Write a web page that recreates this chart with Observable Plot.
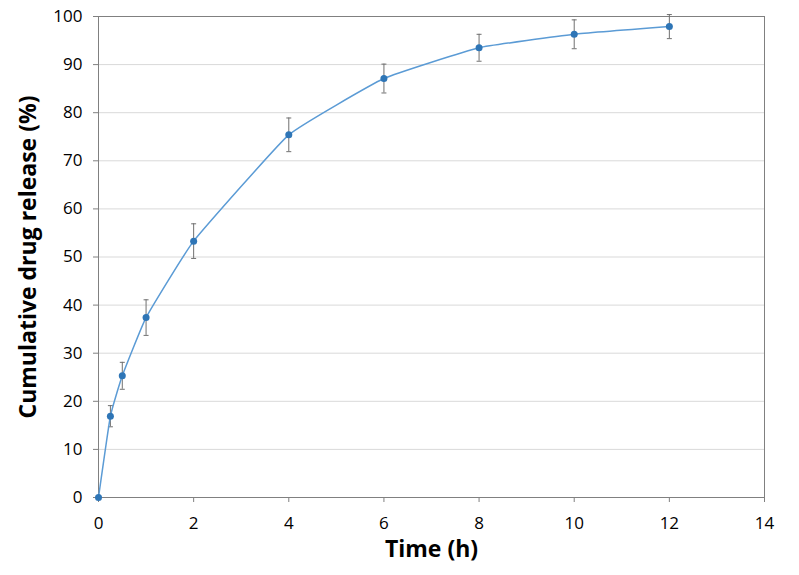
<!DOCTYPE html>
<html>
<head>
<meta charset="utf-8">
<script src="https://cdn.jsdelivr.net/npm/d3@7"></script>
<script src="https://cdn.jsdelivr.net/npm/@observablehq/plot@0.6"></script>
<style>
  html, body { margin: 0; padding: 0; background: #fff; }
  #chart svg { display: block; }
</style>
</head>
<body>
<div id="chart"></div>
<script>
const times = [0, 0.25, 0.5, 1, 2, 4, 6, 8, 10, 12];
const release = [0, 16.9, 25.3, 37.4, 53.3, 75.4, 87.1, 93.5, 96.3, 97.9];
const errors = [0, 2.2, 2.8, 3.7, 3.6, 3.5, 3.0, 2.8, 3.0, 2.5];
const xTicks = [0, 2, 4, 6, 8, 10, 12, 14];
const yTicks = [0, 10, 20, 30, 40, 50, 60, 70, 80, 90, 100];
const xLabel = "Time (h)";
const yLabel = "Cumulative drug release (%)";

const data = times.map((t, i) => ({t, v: release[i], lo: release[i] - errors[i], hi: release[i] + errors[i], e: errors[i]}));
const errData = data.filter(d => d.e > 0);

const capSymbol = {
  draw(ctx, size) {
    const r = Math.sqrt(size / Math.PI);
    ctx.moveTo(-r, 0);
    ctx.lineTo(r, 0);
  }
};

const font = "'Open Sans', 'Noto Sans', sans-serif";

const chart = Plot.plot({
  width: 799,
  height: 575,
  marginLeft: 98,
  marginRight: 35,
  marginTop: 16,
  marginBottom: 78,
  style: {fontFamily: font, fontSize: "17px", color: "#000", background: "#fff"},
  x: {domain: [0, 14], ticks: xTicks, label: null},
  y: {domain: [0, 100], ticks: yTicks, label: null},
  marks: [
    Plot.ruleY(yTicks, {stroke: "#d9d9d9", strokeWidth: 1}),
    Plot.frame({stroke: "#808080", strokeWidth: 1}),
    Plot.axisX({ticks: xTicks, tickSize: 5, tickPadding: 14, stroke: "#808080", fontSize: 17, fill: "#000", tickFormat: d => String(d), label: null}),
    Plot.axisY({ticks: yTicks, tickSize: 5, tickPadding: 11, stroke: "#808080", fontSize: 17, fill: "#000", tickFormat: d => String(d), label: null}),
    Plot.ruleX(errData, {x: "t", y1: "lo", y2: "hi", stroke: "#707070", strokeWidth: 1}),
    Plot.dot(errData, {x: "t", y: "lo", symbol: capSymbol, r: 2.5, stroke: "#707070", strokeWidth: 1, fill: "none"}),
    Plot.dot(errData, {x: "t", y: "hi", symbol: capSymbol, r: 2.5, stroke: "#707070", strokeWidth: 1, fill: "none"}),
    Plot.line(data, {x: "t", y: "v", curve: "cardinal", tension: 0.65, stroke: "#5b9bd5", strokeWidth: 1.5}),
    Plot.dot(data, {x: "t", y: "v", r: 3.5, fill: "#2e75b6", stroke: "none"}),
    Plot.text([xLabel], {frameAnchor: "bottom", dy: 59, fontSize: 23, fontWeight: "bold", fill: "#000"}),
    Plot.text([yLabel], {frameAnchor: "left", textAnchor: "middle", rotate: -90, dx: -70, fontSize: 23, fontWeight: "bold", fill: "#000"})
  ]
});
document.getElementById("chart").appendChild(chart);
</script>
</body>
</html>
